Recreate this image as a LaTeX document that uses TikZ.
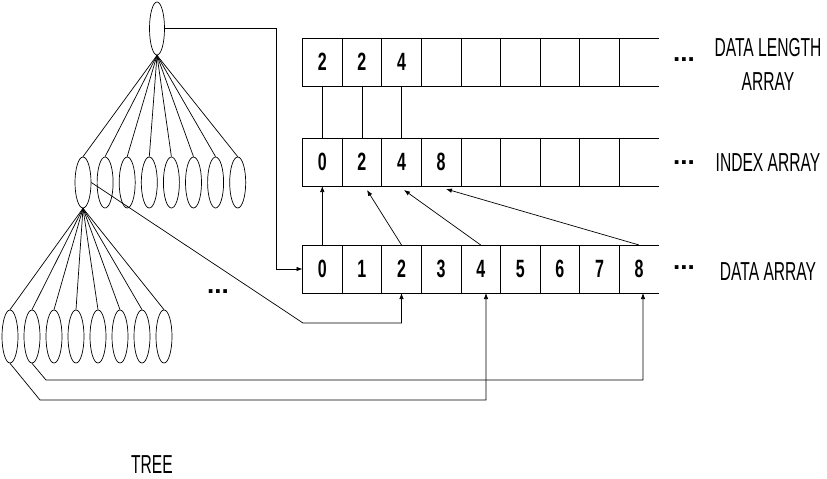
\documentclass[tikz,border=0pt]{standalone}
\usepackage{fontspec}
\setmainfont{Liberation Sans}
\newfontfamily\lblfont{Liberation Sans}[FakeStretch=0.6]
\newfontfamily\numfont{Liberation Sans}[FakeStretch=0.64]
\usetikzlibrary{shapes.geometric,arrows.meta}
\begin{document}
\begin{tikzpicture}[x=1pt,y=-1pt,line width=0.7pt,
  leaf/.style={ellipse,draw,minimum width=16pt,minimum height=52pt,inner sep=0pt},
  cell/.style={rectangle,draw,minimum width=39.6pt,minimum height=48pt,inner sep=0pt,outer sep=0pt,
    font=\numfont\bfseries\fontsize{25}{25}\selectfont},
  opencell/.style={cell,draw=none},
  lbl/.style={font=\lblfont\fontsize{26}{34}\selectfont,align=center,inner sep=0pt},
  dotsnode/.style={font=\bfseries\fontsize{26}{26}\selectfont,inner sep=0pt},
  arr/.style={-{Latex[length=6pt,width=4.5pt]}}]
\useasboundingbox (0,0) rectangle (827,479);

% ---- arrays ----
\def\AL{302.5}
\def\AW{39.6}
% data length array
\foreach \k/\v in {0/2,1/2,2/4,3/,4/,5/,6/,7/}
  \node[cell] (L\k) at ({\AL+\k*\AW+\AW/2},62) {\v};
\node[opencell] (L8) at ({\AL+8*\AW+\AW/2},62) {};
\draw (L8.north west) -- (L8.north east) (L8.south west) -- (L8.south east);
% index array
\foreach \k/\v in {0/0,1/2,2/4,3/8,4/,5/,6/,7/}
  \node[cell] (I\k) at ({\AL+\k*\AW+\AW/2},162) {\v};
\node[opencell] (I8) at ({\AL+8*\AW+\AW/2},162) {};
\draw (I8.north west) -- (I8.north east) (I8.south west) -- (I8.south east);
% data array
\foreach \k in {0,...,7}
  \node[cell] (D\k) at ({\AL+\k*\AW+\AW/2},269) {\k};
\node[opencell] (D8) at ({\AL+8*\AW+\AW/2},269) {8};
\draw (D8.north west) -- (D8.north east) (D8.south west) -- (D8.south east);

% links length -> index
\foreach \k in {0,1,2} \draw (L\k.south) -- (I\k.north);

% arrows data -> index
\coordinate (ia) at (367,190);
\coordinate (ib) at (404,190);
\coordinate (ic) at (446,189);
\draw[arr] (D0.north) -- (I0.south);
\draw[arr] (D2.north) -- (ia);
\draw[arr] (D4.north) -- (ib);
\draw[arr] (D8.north) -- (ic);

% dots and labels
\node[dotsnode] (r1) at (684,60) {...};
\node[dotsnode] (r2) at (684,163) {...};
\node[dotsnode] (r3) at (684,268) {...};
\node[lbl] (t1) at (768,64) {DATA LENGTH\\ARRAY};
\node[lbl] (t2) at (768,163) {INDEX ARRAY};
\node[lbl] (t3) at (768,272) {DATA ARRAY};
\node[lbl] (t4) at (152,465) {TREE};
\node[dotsnode] (md) at (218,292) {...};

% ---- tree ----
\node[leaf,minimum width=15pt,minimum height=53pt] (root) at (157,28.5) {};
\foreach \i in {0,...,7}
  \node[leaf,minimum height=51pt] (b\i) at ({83+22.1*\i},182.5) {};
\foreach \i in {0,...,7}
  \node[leaf,minimum height=53pt] (c\i) at ({10+22*\i},336.5) {};
\foreach \i in {0,...,7} \draw (root.south) -- (b\i.north);
\foreach \i in {0,...,7} \draw (b0.south) -- (c\i.north);

% tree -> data array
\coordinate (k1) at (276,28.5);
\draw[arr] (root.east) -- (k1) |- (D0.west);
\coordinate (k2) at (303,323);
\draw[arr] (b0.east) -- (k2) -| (D2.south);
\coordinate (k3) at (40,400);
\coordinate (k4) at (486,400);
\draw[arr] (c0.south) -- (k3) -- (k4) -- (k4 |- D4.south);
\coordinate (k5) at (46,380);
\coordinate (k6) at (643,380);
\draw[arr] (c1.south) -- (k5) -- (k6) -- (k6 |- D8.south);
\end{tikzpicture}
\end{document}
